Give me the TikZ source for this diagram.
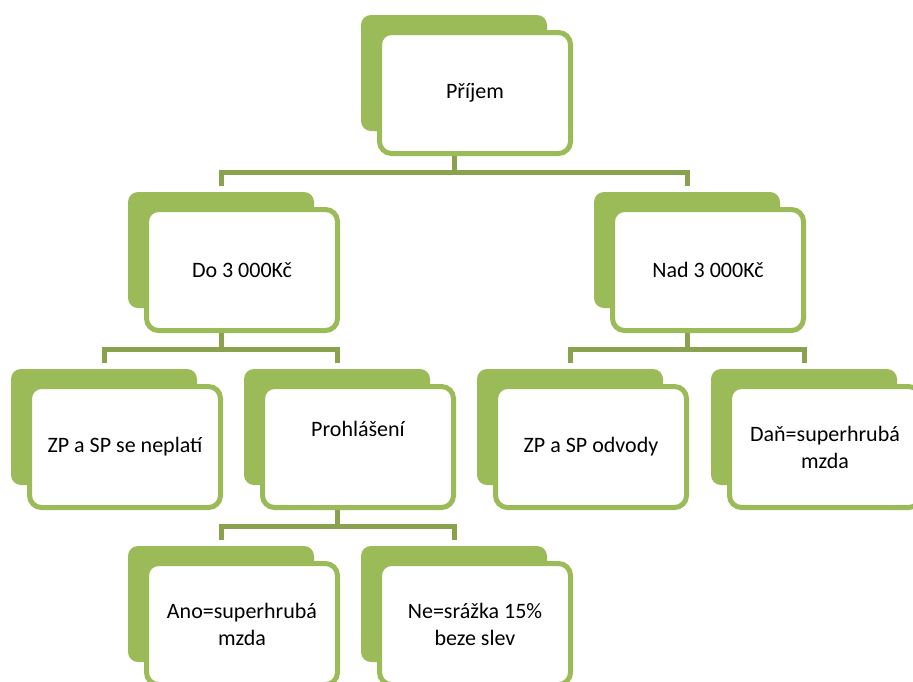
\documentclass[tikz,border=0pt]{standalone}
\usepackage{fontspec}
\setmainfont{Carlito}
\usetikzlibrary{positioning}

\definecolor{leaf}{HTML}{9BBB59}
\definecolor{stem}{HTML}{8AA24E}

\begin{document}
\begin{tikzpicture}[x=1pt, y=-1pt,
    back/.style={fill=leaf, rounded corners=10pt, minimum width=186pt,
        minimum height=116pt, inner sep=0pt, outer sep=0pt, anchor=north west},
    front/.style={draw=leaf, line width=5pt, fill=white, rounded corners=12pt,
        minimum width=191pt, minimum height=121pt, inner sep=0pt, align=center,
        font=\fontsize{22}{27}\selectfont},
    link/.style={draw=stem, line width=5pt}]

\useasboundingbox (0,0) rectangle (913,681);
\clip (0,0) rectangle (913,681);

\foreach \n/\x/\y/\t in {top/361/15/{Příjem},
    do/128/192/{Do 3 000Kč}, nad/594/192/{Nad 3 000Kč},
    zpa/11/369/{ZP a SP se neplatí}, zpb/477/369/{ZP a SP odvody},
    dan/711/369/{Daň=superhrubá\\mzda},
    ano/128/546/{Ano=superhrubá\\mzda}, ne/361/546/{Ne=srážka 15\%\\beze slev}}
{
    \node[back] (\n-b) at (\x,\y) {};
    \node[front, below right=15pt and 16pt of \n-b.north west] (\n) {\t};
}

\node[back] (pro-b) at (244,369) {};
\node[front, below right=15pt and 16pt of pro-b.north west,
    label={[font=\fontsize{22}{27}\selectfont, yshift=18pt]center:Prohlášení}] (pro) {};

% connectors
\draw[link] (top-b.south |- top.south) -- ++(0,16) coordinate (bus1);
\draw[link] ([yshift=6pt]do-b.north) |- (bus1) -| ([yshift=6pt]nad-b.north);

\draw[link] (do-b.south |- do.south) -- ++(0,16) coordinate (bus2);
\draw[link] ([yshift=6pt]zpa-b.north) |- (bus2) -| ([yshift=6pt]pro-b.north);

\draw[link] (nad-b.south |- nad.south) -- ++(0,16) coordinate (bus3);
\draw[link] ([yshift=6pt]zpb-b.north) |- (bus3) -| ([yshift=6pt]dan-b.north);

\draw[link] (pro-b.south |- pro.south) -- ++(0,16) coordinate (bus4);
\draw[link] ([yshift=6pt]ano-b.north) |- (bus4) -| ([yshift=6pt]ne-b.north);

\end{tikzpicture}
\end{document}
